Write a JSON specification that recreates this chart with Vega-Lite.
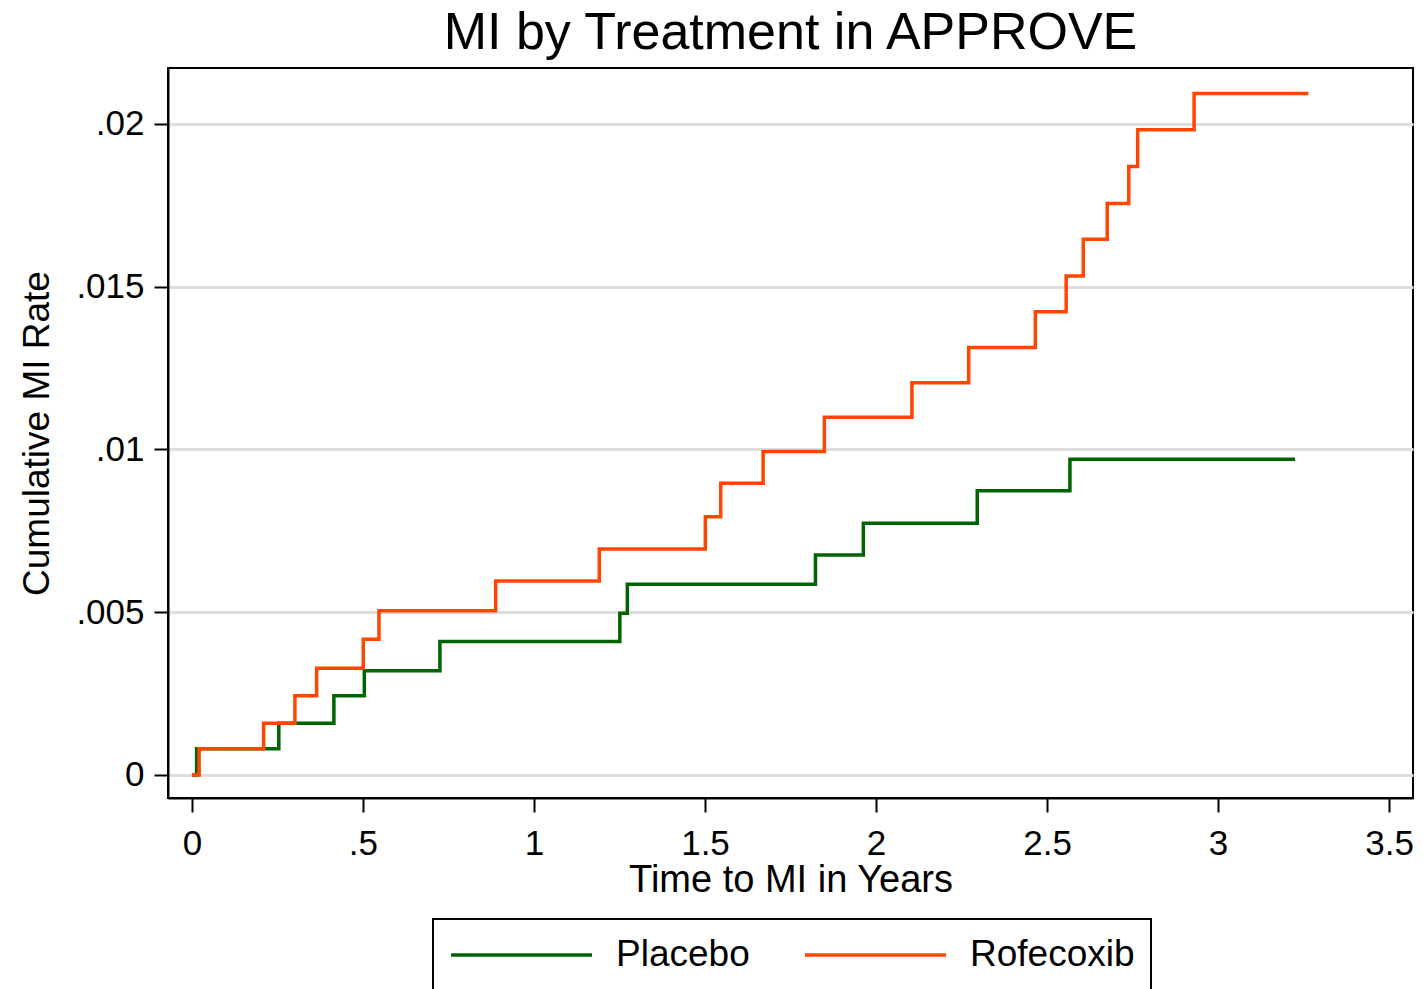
{
  "$schema": "https://vega.github.io/schema/vega-lite/v6.json",
  "width": 1245,
  "height": 730,
  "autosize": {"type": "none"},
  "padding": {"left": 168, "top": 68, "right": 10, "bottom": 191},
  "background": "white",
  "title": {
    "text": "MI by Treatment in APPROVE",
    "fontSize": 52,
    "fontWeight": "normal",
    "color": "#000000",
    "anchor": "middle",
    "frame": "group",
    "baseline": "alphabetic",
    "offset": 17,
    "dy": 50
  },
  "data": {
    "values": [
      {"t": 0, "rate": 0, "group": "Placebo"},
      {"t": 0.0137, "rate": 0.0008, "group": "Placebo"},
      {"t": 0.254, "rate": 0.00159, "group": "Placebo"},
      {"t": 0.415, "rate": 0.00243, "group": "Placebo"},
      {"t": 0.504, "rate": 0.0032, "group": "Placebo"},
      {"t": 0.725, "rate": 0.0041, "group": "Placebo"},
      {"t": 1.251, "rate": 0.00497, "group": "Placebo"},
      {"t": 1.273, "rate": 0.00586, "group": "Placebo"},
      {"t": 1.823, "rate": 0.00676, "group": "Placebo"},
      {"t": 1.963, "rate": 0.00773, "group": "Placebo"},
      {"t": 2.296, "rate": 0.00873, "group": "Placebo"},
      {"t": 2.567, "rate": 0.0097, "group": "Placebo"},
      {"t": 3.225, "rate": 0.0097, "group": "Placebo"},
      {"t": 0, "rate": 0, "group": "Rofecoxib"},
      {"t": 0.021, "rate": 0.0008, "group": "Rofecoxib"},
      {"t": 0.2096, "rate": 0.00159, "group": "Rofecoxib"},
      {"t": 0.301, "rate": 0.00243, "group": "Rofecoxib"},
      {"t": 0.3646, "rate": 0.00328, "group": "Rofecoxib"},
      {"t": 0.5009, "rate": 0.00417, "group": "Rofecoxib"},
      {"t": 0.5468, "rate": 0.00504, "group": "Rofecoxib"},
      {"t": 0.888, "rate": 0.00596, "group": "Rofecoxib"},
      {"t": 1.191, "rate": 0.00694, "group": "Rofecoxib"},
      {"t": 1.501, "rate": 0.00793, "group": "Rofecoxib"},
      {"t": 1.546, "rate": 0.00896, "group": "Rofecoxib"},
      {"t": 1.67, "rate": 0.00994, "group": "Rofecoxib"},
      {"t": 1.849, "rate": 0.01099, "group": "Rofecoxib"},
      {"t": 2.105, "rate": 0.01205, "group": "Rofecoxib"},
      {"t": 2.271, "rate": 0.01313, "group": "Rofecoxib"},
      {"t": 2.466, "rate": 0.01423, "group": "Rofecoxib"},
      {"t": 2.556, "rate": 0.01533, "group": "Rofecoxib"},
      {"t": 2.606, "rate": 0.01646, "group": "Rofecoxib"},
      {"t": 2.676, "rate": 0.01756, "group": "Rofecoxib"},
      {"t": 2.739, "rate": 0.01869, "group": "Rofecoxib"},
      {"t": 2.765, "rate": 0.01982, "group": "Rofecoxib"},
      {"t": 2.93, "rate": 0.02094, "group": "Rofecoxib"},
      {"t": 3.264, "rate": 0.02094, "group": "Rofecoxib"}
    ]
  },
  "mark": {"type": "line", "interpolate": "step-after", "strokeWidth": 3.5},
  "encoding": {
    "x": {
      "field": "t",
      "type": "quantitative",
      "scale": {"domain": [-0.07, 3.57], "nice": false, "zero": false},
      "axis": {
        "title": "Time to MI in Years",
        "values": [0, 0.5, 1, 1.5, 2, 2.5, 3, 3.5],
        "labelExpr": "replace(toString(datum.value), '0.', '.')",
        "grid": false,
        "labelBaseline": "alphabetic",
        "labelPadding": 42,
        "titleBaseline": "alphabetic",
        "titleFontSize": 38,
        "titleY": 93
      }
    },
    "y": {
      "field": "rate",
      "type": "quantitative",
      "scale": {"domain": [-0.00071, 0.02172], "nice": false, "zero": false},
      "axis": {
        "title": "Cumulative MI Rate",
        "values": [0, 0.005, 0.01, 0.015, 0.02],
        "labelExpr": "replace(toString(datum.value), '0.', '.')",
        "grid": true,
        "labelPadding": 10,
        "titleBaseline": "alphabetic",
        "titleFontSize": 37,
        "titleX": -120
      }
    },
    "color": {
      "field": "group",
      "type": "nominal",
      "scale": {"domain": ["Placebo", "Rofecoxib"], "range": ["#006400", "#ff4500"]},
      "legend": {
        "title": null,
        "orient": "none",
        "legendX": 265,
        "legendY": 851,
        "direction": "horizontal",
        "strokeColor": "#000000",
        "fillColor": "#ffffff",
        "padding": 16,
        "symbolType": "stroke",
        "symbolSize": 19881,
        "symbolStrokeWidth": 3.5,
        "labelFontSize": 37,
        "labelColor": "#000000",
        "labelOffset": 22,
        "labelLimit": 400,
        "columnPadding": 53,
        "clipHeight": 40
      }
    }
  },
  "config": {
    "font": "Liberation Sans",
    "view": {"stroke": "#000000", "strokeWidth": 2},
    "axis": {
      "domainColor": "#000000",
      "domainWidth": 2,
      "tickColor": "#000000",
      "tickWidth": 2,
      "tickSize": 14,
      "labelFontSize": 35,
      "labelColor": "#000000",
      "titleFontSize": 36,
      "titleFontWeight": "normal",
      "titleColor": "#000000",
      "gridColor": "#dedede",
      "gridWidth": 3,
      "gridOpacity": 1
    },
    "legend": {"strokeWidth": 2}
  }
}
